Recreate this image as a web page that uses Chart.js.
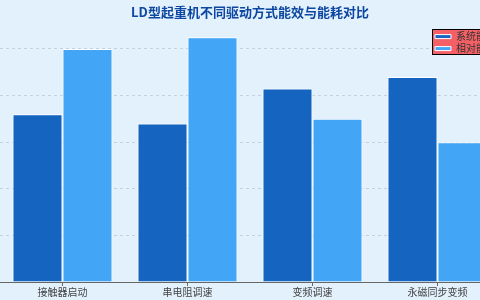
<!DOCTYPE html>
<html>
<head>
<meta charset="utf-8">
<script src="https://cdn.jsdelivr.net/npm/chart.js@4"></script>
<style>
  html, body { margin: 0; padding: 0; background: #e3f1fd; overflow: hidden; }
  #box { position: absolute; left: 0; top: 0; width: 500px; height: 300px; }
</style>
</head>
<body>
<div id="box"><canvas id="grafico"></canvas></div>
<script>
const categorias = ['接触器启动', '串电阻调速', '变频调速', '永磁同步变频'];
const eficiencia = [72, 68, 83, 88];
const consumo = [100, 105, 70, 60];
const nomes = ['系统能效(%)', '相对能耗(%)'];

const fonte = "'Noto Sans CJK SC', 'Noto Sans', sans-serif";

// legenda no canto superior direito, com caixa branca por tras
const fundoLegenda = {
  id: 'fundoLegenda',
  beforeUpdate(chart) {
    const legenda = chart.legend;
    // desenha a legenda depois das barras (e da caixa)
    legenda._layers = () => [{ z: 1, draw: (area) => legenda.draw(area) }];
  },
  afterLayout(chart) {
    const legenda = chart.legend;
    const area = chart.chartArea;
    const w = legenda.width, h = legenda.height;
    legenda.left = area.right - 67;
    legenda.top = area.top + 4;
    legenda.right = legenda.left + w;
    legenda.bottom = legenda.top + h;
  },
  afterDatasetsDraw(chart) {
    const legenda = chart.legend;
    const x = Math.round(legenda.left - 1) + 0.5;
    const y = Math.round(legenda.top - 1) + 0.5;
    const ctx = chart.ctx;
    ctx.save();
    ctx.fillStyle = 'rgba(255,0,0,0.6)';
    ctx.strokeStyle = '#000';
    ctx.lineWidth = 1;
    ctx.fillRect(x, y, 90, 25);
    ctx.strokeRect(x, y, 90, 25);
    ctx.restore();
  }
};

const grafico = new Chart(document.getElementById('grafico'), {
  type: 'bar',
  data: {
    labels: categorias,
    datasets: [{
      label: nomes[0],
      data: eficiencia,
      backgroundColor: '#1565c0',
      borderColor: '#ffffff',
      borderWidth: 1
    }, {
      label: nomes[1],
      data: consumo,
      backgroundColor: '#42a5f5',
      borderColor: '#ffffff',
      borderWidth: 1
    }]
  },
  options: {
    responsive: true,
    maintainAspectRatio: false,
    animation: false,
    layout: { padding: { left: 0, right: 0, top: 0, bottom: 2 } },
    datasets: { bar: { categoryPercentage: 0.8, barPercentage: 1.0 } },
    plugins: {
      title: {
        display: true,
        text: 'LD型起重机不同驱动方式能效与能耗对比',
        color: '#0d47a1',
        font: { family: fonte, size: 13, weight: 'bold' },
        padding: { top: 4, bottom: 6 }
      },
      legend: {
        position: 'chartArea',
        align: 'start',
        labels: {
          boxWidth: 16,
          boxHeight: 4,
          padding: 2,
          color: '#333',
          font: { family: fonte, size: 10 }
        }
      },
      tooltip: { enabled: false }
    },
    scales: {
      x: {
        grid: { display: true, drawOnChartArea: false, offset: false, tickLength: 4, color: '#666' },
        border: { color: '#666', width: 1 },
        ticks: { color: '#444', padding: 0, font: { family: fonte, size: 10 } }
      },
      y: {
        min: 0,
        max: 110,
        z: -1,
        ticks: { display: false, stepSize: 20 },
        grid: {
          drawTicks: false,
          color: ctx => (ctx.tick && ctx.tick.value > 100) ? 'transparent' : 'rgba(0,0,0,0.13)'
        },
        border: { display: false, dash: [3, 3] }
      }
    }
  },
  plugins: [fundoLegenda]
});
</script>
</body>
</html>
